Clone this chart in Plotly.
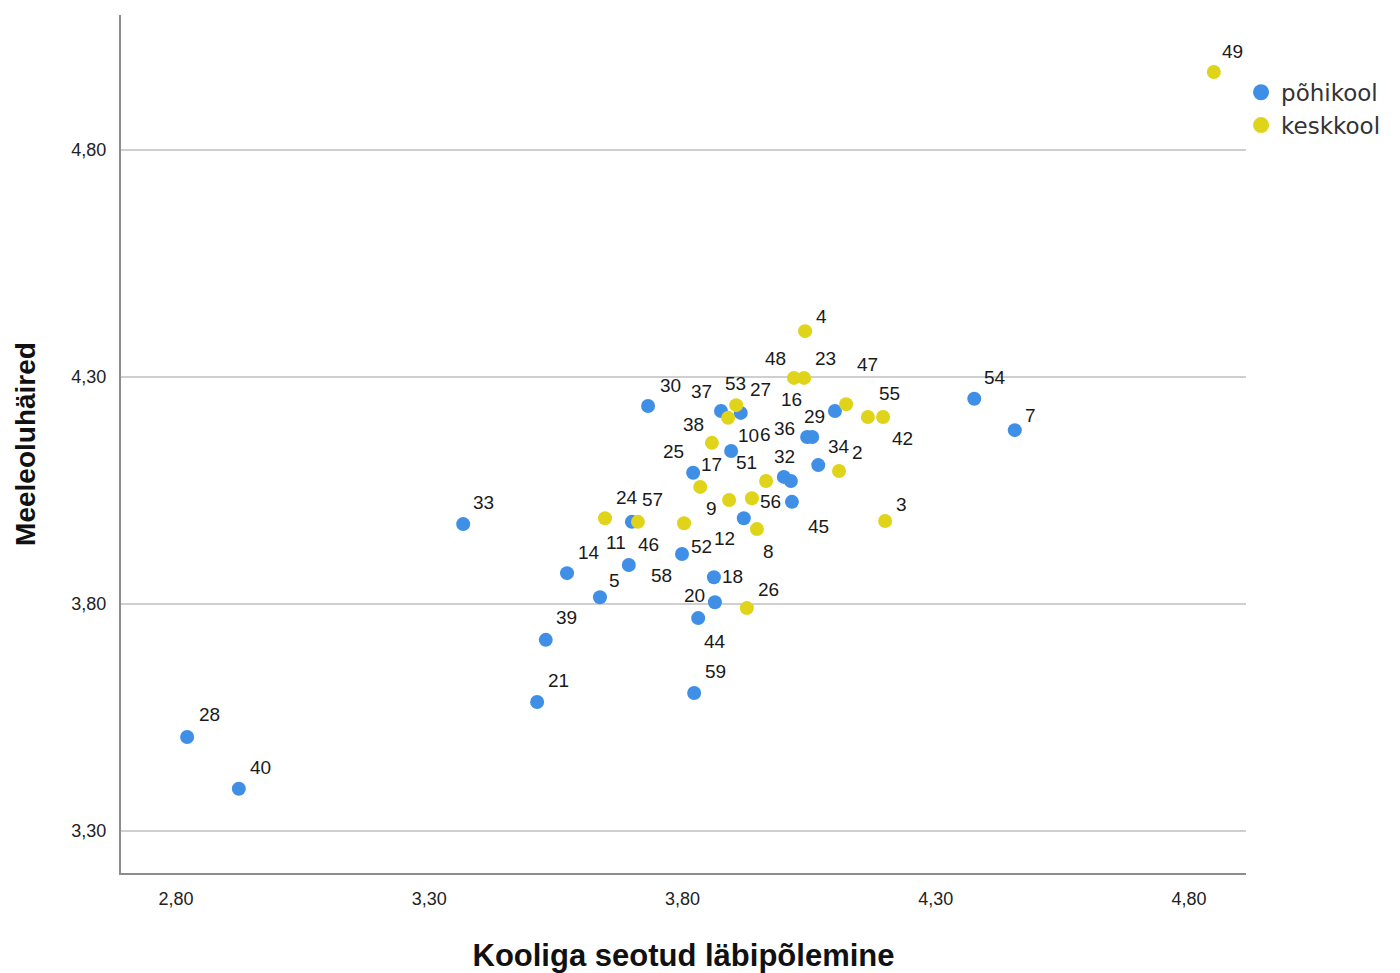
import plotly.graph_objects as go

# ---------------- data ----------------
pohikool_id = ["30", "37", "27", "29", "36", "16", "10", "17", "46", "32", "", "34", "45", "12",
               "14", "11", "52", "5", "18", "20", "44", "39", "21", "59", "28", "40", "33", "54", "7"]
pohikool_x = [3.732, 3.876, 3.915, 4.101, 4.046, 4.056, 3.896, 3.821, 3.700, 4.000, 4.014, 4.068, 4.016, 3.921,
              3.572, 3.694, 3.799, 3.637, 3.862, 3.864, 3.831, 3.530, 3.513, 3.823, 2.822, 2.924, 3.367, 4.376, 4.456]
pohikool_y = [4.236, 4.225, 4.221, 4.225, 4.168, 4.168, 4.137, 4.089, 3.981, 4.080, 4.071, 4.106, 4.025, 3.989,
              3.868, 3.886, 3.910, 3.815, 3.859, 3.804, 3.769, 3.721, 3.584, 3.604, 3.507, 3.393, 3.976, 4.252, 4.183]

keskkool_id = ["4", "48", "23", "53", "6", "47", "55", "42", "38", "25", "24", "57", "58", "9",
               "56", "51", "2", "8", "26", "3", "49"]
keskkool_x = [4.042, 4.020, 4.040, 3.906, 3.890, 4.123, 4.166, 4.196, 3.858, 3.835, 3.647, 3.712, 3.803, 3.892,
              3.937, 3.965, 4.109, 3.947, 3.927, 4.200, 4.849]
keskkool_y = [4.401, 4.298, 4.298, 4.238, 4.210, 4.240, 4.212, 4.212, 4.155, 4.058, 3.989, 3.981, 3.978, 4.029,
              4.033, 4.071, 4.093, 3.965, 3.791, 3.983, 4.972]

tick_values = [2.80, 3.30, 3.80, 4.30, 4.80]
tick_labels = ["2,80", "3,30", "3,80", "4,30", "4,80"]

x_title = "Kooliga seotud läbipõlemine"
y_title = "Meeleoluhäired"

# ---------------- style ----------------
# pixel offsets of each point label (x right, y up)
pohikool_shift = [(22, 21), (-20, 20), (20, 23), (-20, -5), (-23, 8), (-21, 37), (17, 16), (18, 8), (17, -23),
                  (1, 20), (0, 0), (21, 19), (27, -25), (-19, -20), (22, 21), (-13, 22), (19, 8), (15, 17),
                  (19, 1), (-20, 7), (17, -23), (21, 22), (21, 22), (21, 21), (22, 23), (22, 21), (20, 22),
                  (21, 21), (16, 15)]
keskkool_shift = [(16, 15), (-18, 19), (21, 19), (-1, 22), (37, -17), (21, 40), (22, 23), (19, -22), (-18, 18),
                  (-27, 35), (22, 21), (15, 22), (-23, -52), (-18, -8), (19, -3), (-20, 18), (18, 18), (12, -22),
                  (22, 19), (16, 16), (19, 20)]

BLUE = "#3f8fe6"
YELLOW = "#e0d41a"
FONT = "Liberation Sans, Arial, sans-serif"
LABEL_FONT = dict(family=FONT, size=19, color="#1a1a1a")

fig = go.Figure()
fig.add_trace(go.Scatter(x=pohikool_x, y=pohikool_y, mode="markers", name="põhikool",
                         legendgroup="p", showlegend=False,
                         marker=dict(color=BLUE, size=14, line=dict(width=0))))
fig.add_trace(go.Scatter(x=keskkool_x, y=keskkool_y, mode="markers", name="keskkool",
                         legendgroup="k", showlegend=False,
                         marker=dict(color=YELLOW, size=14, line=dict(width=0))))
# legend entries (larger symbols, as in the reference legend)
fig.add_trace(go.Scatter(x=[None], y=[None], mode="markers", name="põhikool", legendgroup="p",
                         marker=dict(color=BLUE, size=24, line=dict(width=0))))
fig.add_trace(go.Scatter(x=[None], y=[None], mode="markers", name="keskkool", legendgroup="k",
                         marker=dict(color=YELLOW, size=24, line=dict(width=0))))

annotations = []
for xs, ys, ids, shifts in ((pohikool_x, pohikool_y, pohikool_id, pohikool_shift),
                            (keskkool_x, keskkool_y, keskkool_id, keskkool_shift)):
    for xv, yv, lab, (dx, dy) in zip(xs, ys, ids, shifts):
        if not lab:
            continue
        annotations.append(dict(x=xv, y=yv, xref="x", yref="y", text=lab, showarrow=False,
                                xanchor="center", yanchor="middle", xshift=dx, yshift=dy,
                                font=LABEL_FONT))

fig.update_layout(
    width=1392, height=965,
    margin=dict(l=113, r=154, t=7, b=100, autoexpand=False),
    paper_bgcolor="white", plot_bgcolor="white",
    showlegend=True,
    legend=dict(x=0.9956, y=0.935, xanchor="left", yanchor="top",
                font=dict(family="DejaVu Sans, sans-serif", size=23, color="#333333"),
                bgcolor="rgba(0,0,0,0)", itemsizing="trace", tracegroupgap=0),
    annotations=annotations,
    xaxis=dict(range=[2.6914, 4.9125], tickvals=tick_values, ticktext=tick_labels,
               showgrid=False, zeroline=False, showline=True, linecolor="#8c8c8c", linewidth=2,
               ticks="", ticklabelstandoff=8,
               tickfont=dict(family=FONT, size=18, color="#222222"),
               title=dict(text=x_title, standoff=40,
                          font=dict(family=FONT, size=31, color="#111111", weight="bold")),
               automargin=False),
    yaxis=dict(range=[3.2075, 5.0974], tickvals=tick_values, ticktext=tick_labels,
               showgrid=True, gridcolor="#cfcfcf", gridwidth=2, zeroline=False,
               showline=True, linecolor="#8c8c8c", linewidth=2,
               ticks="", ticklabelstandoff=9,
               tickfont=dict(family=FONT, size=18, color="#222222"),
               title=dict(text=y_title, standoff=28,
                          font=dict(family=FONT, size=28, color="#111111", weight="bold")),
               automargin=False),
)

fig.write_html("out.html")
